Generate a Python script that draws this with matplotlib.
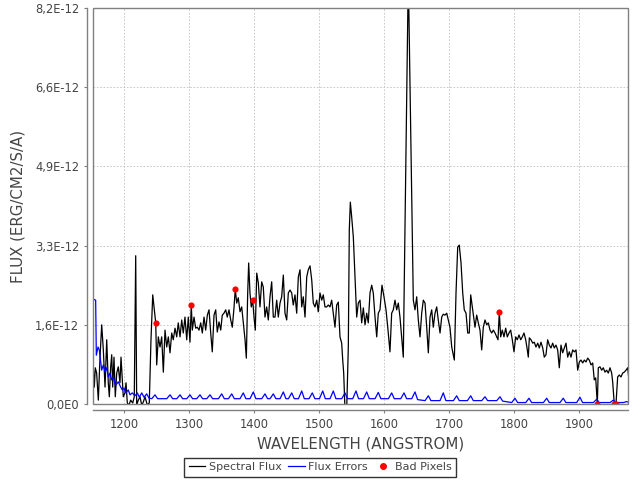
import numpy as np
import matplotlib
matplotlib.use("Agg")
import matplotlib.pyplot as plt
from matplotlib.lines import Line2D
from matplotlib.patches import Rectangle

# spectral flux (units of 1E-12 erg/cm2/s/A)
wave = [1152.8, 1154.3, 1155.8, 1157.9, 1160.5, 1163.1, 1165.7, 1168.2, 1170.8, 1173.4,
        1175.8, 1177.4, 1179.5, 1181.1, 1182.6, 1184.6, 1186.6, 1188.8, 1191.2, 1193.8,
        1195.4, 1197.4, 1198.9, 1201.5, 1203.1, 1205.1, 1207.7, 1210.3, 1213.4, 1215.8,
        1218.0, 1219.5, 1222.0, 1224.6, 1227.2, 1229.7, 1232.3, 1235.8, 1238.9, 1241.5,
        1244.2, 1246.2, 1248.8, 1250.3, 1252.8, 1255.4, 1258.0, 1260.5, 1263.1, 1265.7,
        1268.2, 1270.8, 1273.4, 1275.8, 1278.5, 1281.1, 1283.5, 1286.2, 1288.8, 1291.2,
        1293.8, 1296.5, 1298.9, 1301.5, 1303.5, 1305.1, 1307.7, 1310.3, 1312.8, 1315.4,
        1318.0, 1320.5, 1323.1, 1325.7, 1328.2, 1330.8, 1333.4, 1335.8, 1338.5, 1341.1,
        1343.5, 1346.2, 1348.8, 1351.2, 1353.8, 1356.5, 1358.9, 1361.5, 1364.2, 1366.6,
        1369.2, 1371.2, 1373.4, 1375.8, 1378.5, 1381.1, 1383.5, 1386.2, 1388.2, 1390.3,
        1391.8, 1393.8, 1395.8, 1398.0, 1400.0, 1402.0, 1404.2, 1406.6, 1409.2, 1411.8,
        1414.3, 1416.9, 1419.5, 1422.0, 1424.6, 1427.2, 1429.7, 1432.3, 1434.9, 1437.4,
        1440.0, 1442.6, 1445.1, 1447.7, 1450.3, 1452.8, 1455.4, 1458.0, 1460.4, 1463.1,
        1465.7, 1468.2, 1470.8, 1473.4, 1475.8, 1478.5, 1481.1, 1483.5, 1486.2, 1488.8,
        1491.2, 1493.8, 1496.5, 1498.9, 1501.5, 1504.2, 1506.6, 1509.2, 1511.8, 1514.3,
        1516.9, 1519.5, 1522.0, 1524.6, 1527.2, 1529.7, 1532.3, 1534.9, 1536.5, 1538.0,
        1540.0, 1542.6, 1545.1, 1546.6, 1548.2, 1550.3, 1552.8, 1555.4, 1558.0, 1560.5,
        1563.1, 1565.7, 1568.2, 1570.8, 1573.4, 1575.8, 1578.5, 1581.1, 1583.5, 1586.2,
        1588.8, 1591.2, 1593.8, 1596.9, 1600.0, 1603.1, 1606.6, 1609.2, 1611.8, 1614.3,
        1616.9, 1619.5, 1622.0, 1624.6, 1627.2, 1629.7, 1637.4, 1645.1, 1647.7, 1650.3,
        1652.8, 1655.4, 1658.0, 1660.5, 1663.1, 1665.7, 1668.2, 1670.8, 1673.4, 1675.8,
        1678.5, 1681.1, 1683.5, 1686.2, 1688.8, 1691.2, 1693.8, 1696.5, 1698.9, 1701.5,
        1704.2, 1708.2, 1710.8, 1713.4, 1715.8, 1718.5, 1721.1, 1723.5, 1726.2, 1728.8,
        1731.2, 1733.4, 1736.5, 1740.0, 1742.6, 1745.1, 1747.7, 1750.3, 1752.8, 1755.4,
        1758.0, 1760.5, 1763.1, 1765.7, 1768.2, 1770.8, 1773.4, 1775.4, 1777.4, 1779.5,
        1782.0, 1784.6, 1787.2, 1789.7, 1792.3, 1794.9, 1797.4, 1800.0, 1802.6, 1805.1,
        1807.7, 1810.3, 1812.8, 1815.4, 1818.0, 1820.5, 1822.0, 1823.6, 1826.2, 1828.8,
        1831.2, 1833.8, 1836.5, 1838.9, 1841.5, 1844.2, 1846.6, 1849.2, 1851.8, 1854.3,
        1856.9, 1859.5, 1862.0, 1864.6, 1867.2, 1869.7, 1872.3, 1874.9, 1877.4, 1880.0,
        1882.6, 1885.1, 1887.7, 1890.3, 1892.8, 1895.4, 1898.0, 1900.5, 1903.1, 1905.7,
        1908.2, 1910.8, 1913.4, 1915.8, 1918.5, 1921.1, 1923.5, 1925.7, 1928.2, 1929.7,
        1932.3, 1934.9, 1937.4, 1940.0, 1942.6, 1945.1, 1947.7, 1950.3, 1951.8, 1954.3,
        1956.9, 1959.5, 1961.9, 1964.6, 1967.2, 1969.7, 1972.3, 1974.9, 1976.9]
flux = [0.75, 0.35, 0.75, 0.64, 0.08, 0.97, 1.64, 1.12, 0.35, 1.33,
        0.44, 0.15, 0.77, 1.02, 0.35, 0.97, 0.15, 0.64, 0.77, 0.44,
        0.97, 0.50, 0.15, 0.23, 0.44, 0.02, -0.02, 0.08, 0.02, 0.15,
        3.07, -0.02, 0.08, 0.15, -0.02, 0.04, 0.15, -0.02, 0.02, 1.33,
        2.26, 2.01, 1.68, 0.81, 1.39, 1.18, 1.39, 0.66, 1.53, 1.18,
        1.39, 1.06, 1.47, 1.33, 1.57, 1.39, 1.68, 1.39, 1.74, 1.47,
        1.80, 1.33, 1.80, 1.28, 2.05, 1.53, 1.80, 1.57, 1.59, 1.53,
        1.68, 1.47, 1.80, 1.53, 1.84, 1.95, 1.47, 1.08, 1.84, 1.95,
        1.49, 1.70, 1.53, 1.84, 1.88, 1.95, 1.80, 1.95, 1.74, 1.59,
        1.99, 2.38, 2.09, 2.20, 1.91, 2.01, 1.70, 1.33, 0.95, 2.30,
        2.92, 2.30, 2.01, 2.15, 1.80, 1.53, 2.71, 2.51, 2.01, 2.53,
        2.42, 1.80, 2.01, 1.74, 2.22, 2.53, 1.80, 1.80, 2.15, 1.80,
        2.09, 2.22, 2.67, 1.88, 1.74, 2.30, 2.36, 2.30, 2.05, 2.26,
        1.88, 2.63, 2.78, 2.01, 2.22, 1.80, 2.63, 2.78, 2.86, 2.57,
        2.09, 2.01, 2.15, 1.91, 2.30, 2.15, 2.26, 2.01, 2.01, 2.05,
        2.01, 2.15, 1.88, 1.59, 2.05, 2.11, 1.39, 1.26, 0.91, 0.64,
        -0.12, -0.12, 1.18, 3.60, 4.18, 3.87, 3.46, 2.63, 1.80, 2.09,
        2.15, 1.68, 1.99, 1.64, 1.88, 1.68, 2.30, 2.46, 2.30, 1.80,
        1.39, 1.88, 1.95, 2.46, 2.22, 1.95, 1.47, 1.08, 1.88, 1.95,
        2.15, 1.95, 2.09, 1.80, 1.39, 0.97, 8.90, 2.15, 1.95, 2.22,
        1.74, 1.39, 1.88, 2.15, 2.09, 1.59, 1.06, 1.80, 1.95, 1.59,
        1.88, 2.01, 1.74, 1.47, 1.80, 1.86, 1.84, 1.88, 1.74, 1.59,
        1.18, 0.91, 2.30, 3.25, 3.29, 2.92, 2.30, 1.95, 1.88, 1.47,
        1.47, 2.26, 1.95, 1.59, 1.84, 1.68, 1.53, 1.12, 1.59, 1.74,
        1.64, 1.68, 1.53, 1.47, 1.53, 1.47, 1.39, 1.33, 1.91, 1.39,
        1.53, 1.39, 1.57, 1.39, 1.47, 1.53, 1.33, 1.08, 1.39, 1.33,
        1.43, 1.33, 1.39, 1.47, 1.33, 1.12, 0.97, 1.37, 1.33, 1.26,
        1.28, 1.18, 1.26, 1.16, 1.28, 1.16, 0.97, 1.02, 1.33, 1.22,
        1.16, 1.26, 1.16, 1.22, 1.12, 0.75, 1.22, 1.06, 1.16, 1.26,
        0.97, 1.08, 0.97, 1.12, 1.08, 1.12, 0.70, 0.87, 0.91, 0.85,
        0.91, 0.87, 0.95, 0.91, 0.81, 0.85, 0.50, 0.54, 0.00, 0.75,
        0.77, 0.70, 0.75, 0.66, 0.70, 0.64, 0.75, 0.64, 0.46, 0.00,
        0.00, 0.56, 0.60, 0.56, 0.64, 0.66, 0.70, 0.75, 0.50]

# flux errors (units of 1E-12)
err_wave = [1152.8, 1156.4, 1157.4, 1160.0, 1162.0, 1165.7, 1168.2, 1170.8, 1173.4, 1175.8,
            1178.5, 1181.0, 1183.5, 1187.2, 1191.2, 1194.9, 1197.4, 1200.0, 1202.6, 1206.6,
            1209.2, 1212.8, 1216.9, 1220.5, 1223.6, 1227.3, 1230.8, 1234.9, 1238.5,
            1242.7, 1247.7, 1251.7, 1265.8, 1270.8, 1274.8, 1281.2, 1286.2, 1290.2,
            1296.5, 1301.5, 1305.5, 1311.9, 1316.9, 1320.9, 1327.3, 1332.3, 1336.3,
            1345.3, 1350.3, 1354.3, 1360.7, 1365.7, 1369.7, 1378.5, 1383.5, 1387.5,
            1393.9, 1398.9, 1402.9, 1411.9, 1416.9, 1420.9, 1424.7, 1429.7, 1433.7,
            1440.1, 1445.1, 1449.1, 1453.0, 1458.0, 1462.0, 1468.4, 1473.4, 1477.4,
            1484.7, 1489.7, 1493.7, 1500.7, 1505.7, 1509.7, 1517.0, 1522.0, 1526.0,
            1535.0, 1540.0, 1544.0, 1551.9, 1556.9, 1560.9, 1568.4, 1573.4, 1577.4,
            1586.2, 1591.2, 1595.2, 1606.8, 1611.8, 1615.8, 1625.8, 1630.8, 1634.8,
            1642.7, 1647.7, 1651.7, 1663.2, 1668.2, 1672.2, 1686.2, 1691.2, 1695.2,
            1706.8, 1711.8, 1715.8, 1728.4, 1733.4, 1737.4, 1750.4, 1755.4, 1759.4,
            1773.5, 1778.5, 1782.5, 1796.5, 1801.5, 1805.5, 1818.1, 1823.1, 1827.1,
            1845.3, 1850.3, 1854.3, 1870.8, 1875.8, 1879.8, 1896.5, 1901.5, 1905.5,
            1922.2, 1927.2, 1931.2, 1947.8, 1952.8, 1956.8, 1968.4, 1973.4, 1976.9]
err_flux = [2.17, 2.15, 1.01, 1.18, 1.12, 0.70, 0.81, 0.66, 0.75, 0.56,
            0.64, 0.50, 0.56, 0.39, 0.46, 0.35, 0.29, 0.33, 0.23, 0.29,
            0.19, 0.23, 0.17, 0.23, 0.14, 0.23, 0.14, 0.21, 0.12,
            0.11, 0.19, 0.11, 0.11, 0.19, 0.11, 0.11, 0.19, 0.11,
            0.11, 0.19, 0.11, 0.11, 0.19, 0.11, 0.11, 0.19, 0.11,
            0.11, 0.21, 0.11, 0.11, 0.21, 0.11, 0.11, 0.23, 0.11,
            0.11, 0.25, 0.11, 0.11, 0.21, 0.11, 0.11, 0.21, 0.11,
            0.11, 0.25, 0.11, 0.11, 0.23, 0.11, 0.11, 0.27, 0.11,
            0.11, 0.23, 0.11, 0.11, 0.27, 0.11, 0.11, 0.27, 0.11,
            0.11, 0.23, 0.11, 0.11, 0.27, 0.11, 0.11, 0.25, 0.11,
            0.11, 0.24, 0.11, 0.11, 0.23, 0.11, 0.11, 0.23, 0.11,
            0.11, 0.25, 0.09, 0.07, 0.17, 0.07, 0.07, 0.23, 0.07,
            0.07, 0.17, 0.07, 0.07, 0.17, 0.07, 0.07, 0.15, 0.07,
            0.07, 0.15, 0.06, 0.03, 0.12, 0.03, 0.03, 0.12, 0.03,
            0.03, 0.12, 0.03, 0.03, 0.12, 0.03, 0.03, 0.14, 0.03,
            0.03, 0.10, 0.03, 0.03, 0.08, 0.03, 0.03, 0.05, 0.03]

# bad pixels
bad_wave = [1248.8, 1303.5, 1371.2, 1398.0, 1777.4, 1928.2, 1954.3, 1956.9]
bad_flux = [1.68, 2.05, 2.38, 2.15, 1.91, 0.0, 0.0, 0.0]

yticks = [0.0, 1.64, 3.28, 4.92, 6.56, 8.2]
ytick_labels = ['0,0E0', '1,6E-12', '3,3E-12', '4,9E-12', '6,6E-12', '8,2E-12']
xticks = [1200, 1300, 1400, 1500, 1600, 1700, 1800, 1900]

scale = 1e-12
txt = '#444444'

fig = plt.figure(figsize=(6.4, 4.8), dpi=100)
ax = fig.add_axes([93 / 640, 76 / 480, 535 / 640, 396 / 480])

ax.plot(wave, np.array(flux) * scale, color='black', lw=0.9)
ax.plot(err_wave, np.array(err_flux) * scale, color='#0000ff', lw=0.9)
ax.scatter(bad_wave, np.array(bad_flux) * scale, s=20, color='#ff0000', zorder=5, linewidths=0)

ax.set_xlim(1152.3, 1975.4)
ax.set_ylim(0, 8.2 * scale)
ax.set_xticks(xticks)
ax.set_xticklabels([str(v) for v in xticks])
ax.set_yticks([v * scale for v in yticks])
ax.set_yticklabels(ytick_labels)

ax.grid(True, color='#c0c0c0', linestyle=(0, (2, 2)), lw=0.6)
ax.set_axisbelow(True)

# plot outline plus offset axis lines
for s in ['top', 'right']:
    ax.spines[s].set_visible(False)
for s in ['left', 'bottom']:
    ax.spines[s].set_position(('outward', 4))
    ax.spines[s].set_color('#808080')
    ax.spines[s].set_linewidth(1.0)
ax.add_patch(Rectangle((0, 0), 1, 1, transform=ax.transAxes, fill=False,
                       edgecolor='#808080', lw=1.0, clip_on=False, zorder=6))

ax.tick_params(direction='out', length=2, width=0.8, color='#808080',
               labelsize=8.3, labelcolor=txt, pad=4)
ax.set_xlabel('WAVELENGTH (ANGSTROM)', fontsize=10.8, color=txt, labelpad=4)
ax.set_ylabel('FLUX (ERG/CM2/S/A)', fontsize=10.8, color=txt, labelpad=7)

handles = [Line2D([], [], color='black', lw=0.9),
           Line2D([], [], color='#0000ff', lw=0.9),
           Line2D([], [], color='#ff0000', marker='o', markersize=4, lw=0)]
leg = fig.legend(handles, ['Spectral Flux', 'Flux Errors', 'Bad Pixels'],
                 loc='lower center', bbox_to_anchor=(0.5, 0.0), ncol=3,
                 fontsize=8, frameon=True, fancybox=False, handlelength=1.5,
                 handletextpad=0.3, columnspacing=0.6, borderpad=0.4,
                 borderaxespad=0.3)
leg.get_frame().set_edgecolor('black')
leg.get_frame().set_linewidth(1.0)
for t in leg.get_texts():
    t.set_color(txt)

fig.savefig('out.png', dpi=100)
